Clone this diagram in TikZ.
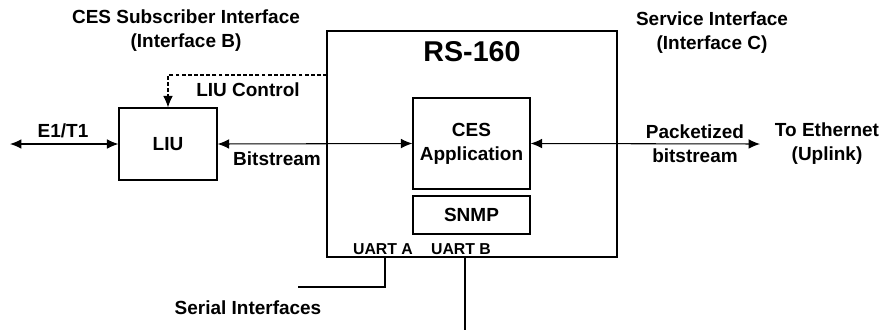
\documentclass[tikz,border=0pt]{standalone}
\usepackage{fontspec}
\setmainfont{Liberation Sans}
\usetikzlibrary{arrows.meta}

\begin{document}
\begin{tikzpicture}
\tikzset{block/.style = {draw, line width=.7pt, inner sep=0pt}}
\tikzset{edge/.style = {<->,> = {Latex[length=6.5pt,width=5.5pt]}, line width=.6 pt}}
\tikzset{txt/.style = {font=\fontsize{10.8}{13.6}\selectfont\bfseries, align=center, inner sep=0pt}}
\tikzset{small txt/.style = {txt, font=\fontsize{9}{11}\selectfont\bfseries}}

\useasboundingbox (0., 0.) rectangle (17.64, 6.6);

% boxes
\node[block, minimum width=5.8cm, minimum height=4.52cm] (rs) at (9.44, 3.72) {};
\node[block, txt, minimum width=1.96cm, minimum height=1.44cm] (liu) at (3.36, 3.72) {LIU};
\node[block, txt, minimum width=2.34cm, minimum height=1.82cm] (app) at (9.43, 3.73) {CES\\Application};
\node[block, txt, minimum width=2.34cm, minimum height=.76cm] (snmp) at (9.43, 2.30) {SNMP};

% texts
\node[txt, font=\fontsize{16.3}{19}\selectfont\bfseries] (rstitle) at (9.44, 5.56) {RS-160};
\node[txt] (ifb) at (3.72, 5.99) {CES Subscriber Interface\\(Interface B)};
\node[txt] (ifc) at (14.24, 5.95) {Service Interface\\(Interface C)};
\node[txt] (e1t1) at (1.26, 3.98) {E1/T1};
\node[txt] (liuctl) at (4.96, 4.80) {LIU Control};
\node[txt] (bits) at (5.54, 3.42) {Bitstream};
\node[txt] (pkt) at (13.90, 3.73) {Packetized\\bitstream};
\node[txt] (eth) at (16.54, 3.73) {To Ethernet\\(Uplink)};
\node[small txt] (uarta) at (7.66, 1.62) {UART A};
\node[small txt] (uartb) at (9.22, 1.62) {UART B};
\node[txt] (serial) at (4.96, .44) {Serial Interfaces};

% free ends
\coordinate (line) at (.2, 3.72);
\coordinate (uplink) at (15.2, 3.72);
\coordinate (ctl) at (6.54, 5.10);
\coordinate (pa) at (7.70, 1.46);
\coordinate (pa end) at (5.96, .86);
\coordinate (pb) at (9.30, 1.46);
\coordinate (pb end) at (9.30, 0.);

% connectors
\draw[edge] (line) -- (liu.west);
\draw[edge] (liu.east) -- (app.west);
\draw[edge] (app.east) -- (uplink);
\draw[-{Latex[length=6.5pt,width=5.5pt]}, line width=.6pt, dash pattern=on 2.2pt off 1.3pt] (ctl) -| (liu.north);
\draw[line width=.6pt] (pa) |- (pa end);
\draw[line width=.6pt] (pb) -- (pb end);

\end{tikzpicture}
\end{document}
